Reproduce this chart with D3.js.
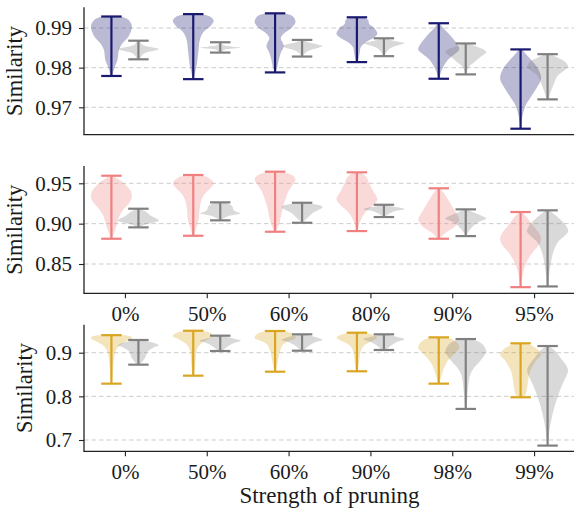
<!DOCTYPE html>
<html>
<head>
<meta charset="utf-8">
<script src="https://cdn.jsdelivr.net/npm/d3@7"></script>
<style>
  body { margin: 0; background: #fff; }
</style>
</head>
<body>
<svg id="chart" width="574" height="510"></svg>
<script>
// Pruning strengths shown under each panel
const categoriesTop = ["0%", "50%", "60%", "80%", "90%", "95%"];
const categoriesBottom = ["0%", "50%", "60%", "90%", "98%", "99%"];

// Y tick values per panel
const ticksA = [0.97, 0.98, 0.99];
const ticksB = [0.85, 0.90, 0.95];
const ticksC = [0.7, 0.8, 0.9];

// Violin outlines: [similarity, relative width] from the maximum down to the minimum.
// First point = max (top cap), last point = min (bottom cap).
const navyViolins = [
  [[0.9929,0.45],[0.9922,0.8],[0.9905,1.0],[0.9880,0.85],[0.9862,0.55],[0.9845,0.37],[0.9820,0.3],[0.9800,0.15],[0.9779,0.03]],
  [[0.9935,0.35],[0.9928,0.85],[0.9918,1.0],[0.9905,0.85],[0.9890,0.5],[0.9870,0.32],[0.9840,0.25],[0.9810,0.18],[0.9785,0.08],[0.9771,0.02]],
  [[0.9937,0.4],[0.9930,0.85],[0.9915,1.0],[0.9900,0.8],[0.9885,0.4],[0.9874,0.28],[0.9862,0.38],[0.9853,0.42],[0.9840,0.3],[0.9824,0.2],[0.9800,0.1],[0.9788,0.02]],
  [[0.9927,0.3],[0.9920,0.55],[0.9910,0.6],[0.9900,0.85],[0.9885,1.0],[0.9875,0.8],[0.9865,0.45],[0.9853,0.2],[0.9835,0.13],[0.9814,0.05]],
  [[0.9912,0.05],[0.9900,0.22],[0.9885,0.5],[0.9870,0.75],[0.9855,0.95],[0.9845,1.0],[0.9835,0.8],[0.9820,0.45],[0.9805,0.25],[0.9790,0.12],[0.9772,0.02]],
  [[0.9846,0.08],[0.9832,0.3],[0.9815,0.6],[0.9795,0.88],[0.9772,1.0],[0.9750,0.8],[0.9730,0.55],[0.9710,0.3],[0.9690,0.15],[0.9665,0.05],[0.9646,0.02]]
];
const grayViolinsA = [
  [[0.9868,0.05],[0.9858,0.2],[0.9852,0.6],[0.9847,1.0],[0.9842,0.7],[0.9835,0.25],[0.9821,0.05]],
  [[0.9864,0.02],[0.9857,0.15],[0.9853,0.6],[0.9851,1.0],[0.9848,0.6],[0.9845,0.2],[0.9838,0.02]],
  [[0.9870,0.05],[0.9864,0.3],[0.9858,0.8],[0.9855,1.0],[0.9850,0.8],[0.9843,0.35],[0.9835,0.12],[0.9828,0.03]],
  [[0.9874,0.1],[0.9868,0.45],[0.9862,1.0],[0.9857,0.75],[0.9850,0.35],[0.9840,0.15],[0.9829,0.03]],
  [[0.9861,0.1],[0.9853,0.55],[0.9845,0.9],[0.9838,1.0],[0.9830,0.8],[0.9822,0.6],[0.9815,0.45],[0.9805,0.2],[0.9795,0.08],[0.9783,0.02]],
  [[0.9834,0.15],[0.9825,0.5],[0.9815,0.85],[0.9803,1.0],[0.9792,0.8],[0.9780,0.5],[0.9765,0.35],[0.9748,0.22],[0.9730,0.1],[0.9720,0.05]]
];

const redViolins = [
  [[0.9594,0.05],[0.9550,0.35],[0.9480,0.7],[0.9400,0.95],[0.9330,1.0],[0.9250,0.85],[0.9180,0.6],[0.9100,0.4],[0.9000,0.28],[0.8900,0.15],[0.8813,0.03]],
  [[0.9603,0.3],[0.9570,0.75],[0.9500,1.0],[0.9430,0.8],[0.9350,0.5],[0.9250,0.35],[0.9150,0.3],[0.9050,0.27],[0.8950,0.15],[0.8850,0.03]],
  [[0.9644,0.35],[0.9600,0.85],[0.9545,1.0],[0.9480,0.85],[0.9400,0.65],[0.9300,0.5],[0.9200,0.38],[0.9100,0.3],[0.9000,0.2],[0.8900,0.03]],
  [[0.9636,0.15],[0.9580,0.45],[0.9500,0.6],[0.9400,0.8],[0.9300,1.0],[0.9220,0.75],[0.9150,0.45],[0.9080,0.25],[0.9000,0.12],[0.8908,0.03]],
  [[0.9438,0.05],[0.9380,0.25],[0.9280,0.5],[0.9150,0.8],[0.9050,1.0],[0.8980,0.85],[0.8920,0.55],[0.8870,0.25],[0.8813,0.05]],
  [[0.9144,0.05],[0.9080,0.3],[0.8980,0.6],[0.8880,0.9],[0.8800,1.0],[0.8720,0.85],[0.8650,0.6],[0.8550,0.35],[0.8450,0.18],[0.8330,0.08],[0.8213,0.02]]
];
const grayViolinsB = [
  [[0.9185,0.05],[0.9150,0.35],[0.9100,0.6],[0.9060,0.9],[0.9040,1.0],[0.9010,0.7],[0.8985,0.3],[0.8954,0.05]],
  [[0.9264,0.1],[0.9240,0.45],[0.9210,0.6],[0.9170,0.65],[0.9140,0.85],[0.9125,1.0],[0.9110,0.7],[0.9090,0.35],[0.9060,0.12],[0.9041,0.03]],
  [[0.9259,0.1],[0.9240,0.6],[0.9220,0.95],[0.9200,1.0],[0.9170,0.8],[0.9130,0.5],[0.9080,0.3],[0.9040,0.12],[0.9011,0.03]],
  [[0.9234,0.05],[0.9215,0.35],[0.9195,0.85],[0.9180,1.0],[0.9160,0.6],[0.9130,0.3],[0.9100,0.1],[0.9082,0.03]],
  [[0.9177,0.05],[0.9140,0.35],[0.9100,0.75],[0.9065,1.0],[0.9030,0.7],[0.8990,0.45],[0.8940,0.25],[0.8880,0.08],[0.8846,0.02]],
  [[0.9165,0.08],[0.9100,0.4],[0.9020,0.75],[0.8940,0.98],[0.8900,1.0],[0.8840,0.8],[0.8770,0.5],[0.8650,0.28],[0.8500,0.15],[0.8350,0.07],[0.8222,0.03]]
];

const goldViolins = [
  [[0.9402,0.6],[0.9370,0.95],[0.9330,1.0],[0.9260,0.75],[0.9180,0.45],[0.9080,0.25],[0.8950,0.15],[0.8750,0.1],[0.8500,0.06],[0.8291,0.02]],
  [[0.9503,0.4],[0.9450,0.85],[0.9380,1.0],[0.9300,0.7],[0.9200,0.35],[0.9100,0.2],[0.8950,0.13],[0.8750,0.1],[0.8600,0.07],[0.8474,0.02]],
  [[0.9497,0.4],[0.9450,0.8],[0.9380,0.98],[0.9330,1.0],[0.9260,0.65],[0.9180,0.38],[0.9050,0.25],[0.8900,0.17],[0.8700,0.1],[0.8565,0.02]],
  [[0.9458,0.35],[0.9410,0.8],[0.9340,1.0],[0.9270,0.75],[0.9180,0.4],[0.9080,0.22],[0.8950,0.15],[0.8750,0.1],[0.8574,0.03]],
  [[0.9352,0.3],[0.9300,0.7],[0.9200,0.95],[0.9100,1.0],[0.9000,0.8],[0.8900,0.6],[0.8780,0.4],[0.8600,0.22],[0.8450,0.12],[0.8291,0.04]],
  [[0.9215,0.15],[0.9150,0.6],[0.9050,0.9],[0.8950,1.0],[0.8850,0.8],[0.8700,0.6],[0.8550,0.45],[0.8400,0.38],[0.8200,0.32],[0.8050,0.25],[0.7979,0.15]]
];
const grayViolinsC = [
  [[0.9291,0.1],[0.9250,0.55],[0.9200,0.9],[0.9170,1.0],[0.9120,0.75],[0.9050,0.5],[0.8980,0.4],[0.8900,0.35],[0.8800,0.2],[0.8726,0.05]],
  [[0.9390,0.1],[0.9350,0.45],[0.9300,0.85],[0.9275,1.0],[0.9230,0.7],[0.9170,0.45],[0.9100,0.25],[0.9039,0.08]],
  [[0.9421,0.1],[0.9380,0.45],[0.9320,0.9],[0.9290,1.0],[0.9240,0.65],[0.9180,0.4],[0.9110,0.2],[0.9046,0.05]],
  [[0.9421,0.1],[0.9370,0.55],[0.9310,1.0],[0.9250,0.65],[0.9180,0.4],[0.9110,0.2],[0.9062,0.05]],
  [[0.9313,0.2],[0.9250,0.65],[0.9150,0.9],[0.9020,1.0],[0.8900,0.85],[0.8780,0.65],[0.8650,0.4],[0.8500,0.22],[0.8300,0.14],[0.8000,0.08],[0.7712,0.03]],
  [[0.9153,0.05],[0.9050,0.35],[0.8900,0.6],[0.8750,0.85],[0.8600,1.0],[0.8450,0.9],[0.8250,0.7],[0.8000,0.5],[0.7750,0.33],[0.7500,0.2],[0.7250,0.1],[0.7000,0.05],[0.6872,0.02]]
];

// Colours
const navy = "#191970", coral = "#f08080", gold = "#daa520", grey = "#808080";
const serifStack = "Tinos, 'Noto Serif', 'Times New Roman', Times, 'Nimbus Roman', FreeSerif, 'Liberation Serif', 'DejaVu Serif', serif";

// Panel layout (pixel bands) and value ranges
const panels = [
  { cats: categoriesTop, ticks: ticksA, fmt: ".2f", domain: [0.96309, 0.99522], top: 7.3, bottom: 134.7,
    color: navy, colored: navyViolins, gray: grayViolinsA, showX: false, ylabelX: 22 },
  { cats: categoriesTop, ticks: ticksB, fmt: ".2f", domain: [0.8137, 0.97144], top: 166, bottom: 293.3,
    color: coral, colored: redViolins, gray: grayViolinsB, showX: true, ylabelX: 22 },
  { cats: categoriesBottom, ticks: ticksC, fmt: ".1f", domain: [0.67411, 0.96415], top: 324.7, bottom: 451.3,
    color: gold, colored: goldViolins, gray: grayViolinsC, showX: true, ylabelX: 32 }
];

const svg = d3.select("#chart");
const left = 84, right = 575;
const x = d3.scaleLinear().domain([-0.5, 5.5]).range([left, right]);
const violinWidth = 0.5;   // full width in category units
const offset = 0.165;      // shift of each violin from the category centre
const halfW = (x(violinWidth / 2) - x(0));
const capHalf = (x(violinWidth / 4) - x(0));

panels.forEach(p => {
  const y = d3.scaleLinear().domain(p.domain).range([p.bottom, p.top]);
  const g = svg.append("g");

  // dashed horizontal grid
  g.selectAll("line.grid").data(p.ticks).join("line")
    .attr("x1", left).attr("x2", right)
    .attr("y1", d => y(d)).attr("y2", d => y(d))
    .attr("stroke", "#cccccc").attr("stroke-width", 1)
    .attr("stroke-dasharray", "4.5,3");

  const drawSet = (profiles, color, shift) => {
    profiles.forEach((prof, i) => {
      const cx = x(i + shift);
      const area = d3.area()
        .curve(d3.curveCatmullRom)
        .y(d => y(d[0]))
        .x0(d => cx - d[1] * halfW)
        .x1(d => cx + d[1] * halfW);
      g.append("path").datum(prof)
        .attr("d", area)
        .attr("fill", color).attr("fill-opacity", 0.3);
    });
    profiles.forEach((prof, i) => {
      const cx = x(i + shift);
      const vmax = prof[0][0], vmin = prof[prof.length - 1][0];
      const lg = g.append("g").attr("stroke", color).attr("stroke-width", 2.2).attr("fill", "none");
      lg.append("line").attr("x1", cx).attr("x2", cx).attr("y1", y(vmax)).attr("y2", y(vmin));
      lg.append("line").attr("x1", cx - capHalf).attr("x2", cx + capHalf).attr("y1", y(vmax)).attr("y2", y(vmax));
      lg.append("line").attr("x1", cx - capHalf).attr("x2", cx + capHalf).attr("y1", y(vmin)).attr("y2", y(vmin));
    });
  };
  drawSet(p.colored, p.color, -offset);
  drawSet(p.gray, grey, offset);

  // y axis
  const ya = g.append("g").attr("transform", `translate(${left},0)`)
    .call(d3.axisLeft(y).tickValues(p.ticks).tickFormat(d3.format(p.fmt)).tickSize(5).tickPadding(7).tickSizeOuter(0));
  ya.attr("font-family", serifStack).attr("font-size", 21);
  ya.select(".domain").remove();
  ya.selectAll("text").attr("fill", "#1a1a1a");
  ya.selectAll(".tick line").attr("stroke", "#222").attr("stroke-width", 1.1);

  // x axis
  const xa = g.append("g").attr("transform", `translate(0,${p.bottom})`)
    .call(d3.axisBottom(x).tickValues(d3.range(p.cats.length)).tickFormat(i => p.cats[i])
      .tickSize(p.showX ? 5 : 0).tickPadding(8).tickSizeOuter(0));
  xa.attr("font-family", serifStack).attr("font-size", 21);
  xa.select(".domain").remove();
  xa.selectAll("text").attr("fill", "#1a1a1a");
  xa.selectAll(".tick line").attr("stroke", "#222").attr("stroke-width", 1.1);
  if (!p.showX) xa.selectAll(".tick").remove();

  // spines
  g.append("line").attr("x1", left).attr("x2", left).attr("y1", p.top).attr("y2", p.bottom)
    .attr("stroke", "#222").attr("stroke-width", 1.3);
  g.append("line").attr("x1", left - 0.65).attr("x2", right).attr("y1", p.bottom).attr("y2", p.bottom)
    .attr("stroke", "#222").attr("stroke-width", 1.3);

  // y label
  g.append("text")
    .attr("transform", `translate(${p.ylabelX},${(p.top + p.bottom) / 2}) rotate(-90)`)
    .attr("text-anchor", "middle").attr("font-size", 22.5)
    .attr("font-family", serifStack).attr("fill", "#1a1a1a")
    .text("Similarity");
});

svg.append("text")
  .attr("x", (left + right) / 2).attr("y", 503)
  .attr("text-anchor", "middle").attr("font-size", 23)
  .attr("font-family", serifStack).attr("fill", "#1a1a1a")
  .text("Strength of pruning");
</script>
</body>
</html>
